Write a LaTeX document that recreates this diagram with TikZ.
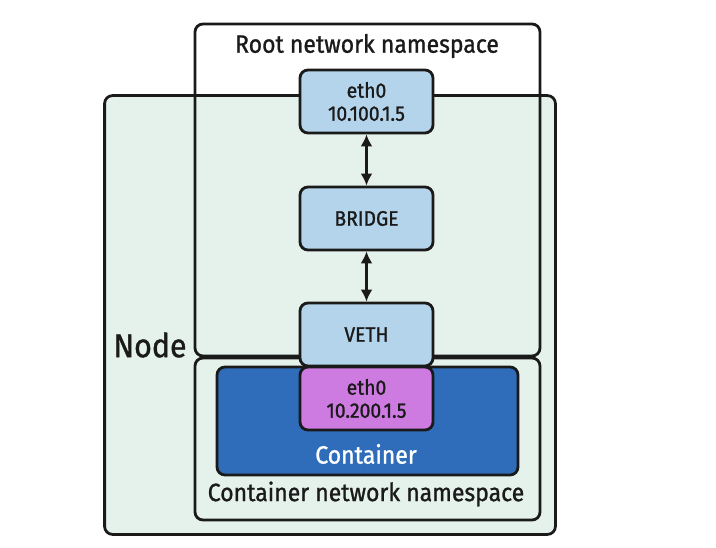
\documentclass[tikz,border=0pt]{standalone}
\usepackage{fontspec}
\setmainfont[FakeStretch=0.92,FakeBold=1.1]{Fira Sans}
\usetikzlibrary{arrows.meta}
\definecolor{nodegreen}{HTML}{E4F2EB}
\definecolor{ifblue}{HTML}{B4D4EB}
\definecolor{ctblue}{HTML}{2F6DBA}
\definecolor{ifpurple}{HTML}{CD7BE1}
\definecolor{ink}{HTML}{1A1A1A}
\tikzset{
  frame/.style={draw=ink, line width=2.8pt, rounded corners=8pt, inner sep=0pt},
  iface/.style={frame, fill=ifblue, minimum width=133pt, minimum height=63pt, align=center, font=\fontsize{21}{25}\selectfont, text=ink},
  link/.style={draw=ink, line width=2.8pt, {Latex[length=12pt,width=12pt]}-{Latex[length=12pt,width=12pt]}},
  lbl/.style={inner sep=0pt, text=ink},
}
\begin{document}
\begin{tikzpicture}[x=1pt,y=-1pt]
\useasboundingbox (0,0) rectangle (716,548);
\node[frame, fill=nodegreen, draw=none, minimum width=448pt, minimum height=436pt] (nodebg) at (330,315) {};
\node[frame, minimum width=345pt, minimum height=332pt] (root) at (367.5,190) {};
\node[frame, draw=none, minimum width=448pt, minimum height=436pt] (nodebox) at (330,315) {};
\draw[frame] (nodebox.south west) rectangle (nodebox.north east);
\node[frame, minimum width=345pt, minimum height=162pt] (cns) at (367.5,439) {};
\node[frame, fill=ctblue, minimum width=301pt, minimum height=108pt] (ct) at (367.5,421) {};
\node[iface] (eth0r) at (366.5,101.5) {eth0\\[-2pt]10.100.1.5};
\node[iface] (bridge) at (366.5,218.5) {BRIDGE};
\node[iface] (veth) at (366.5,334.5) {VETH};
\node[iface, fill=ifpurple] (eth0c) at (366.5,398.5) {eth0\\[-2pt]10.200.1.5};
\draw[link] (eth0r) -- (bridge);
\draw[link] (bridge) -- (veth);
\node[lbl, font=\fontsize{25}{30}\selectfont] (roottitle) at (367,46) {Root network namespace};
\node[lbl, font=\fontsize{33}{40}\selectfont] (nodetitle) at (150,345) {Node};
\node[lbl, text=white, font=\fontsize{25}{30}\selectfont] (cttitle) at (366,454) {Container};
\node[lbl, font=\fontsize{25}{30}\selectfont] (cnstitle) at (366,494) {Container network namespace};
\end{tikzpicture}
\end{document}
